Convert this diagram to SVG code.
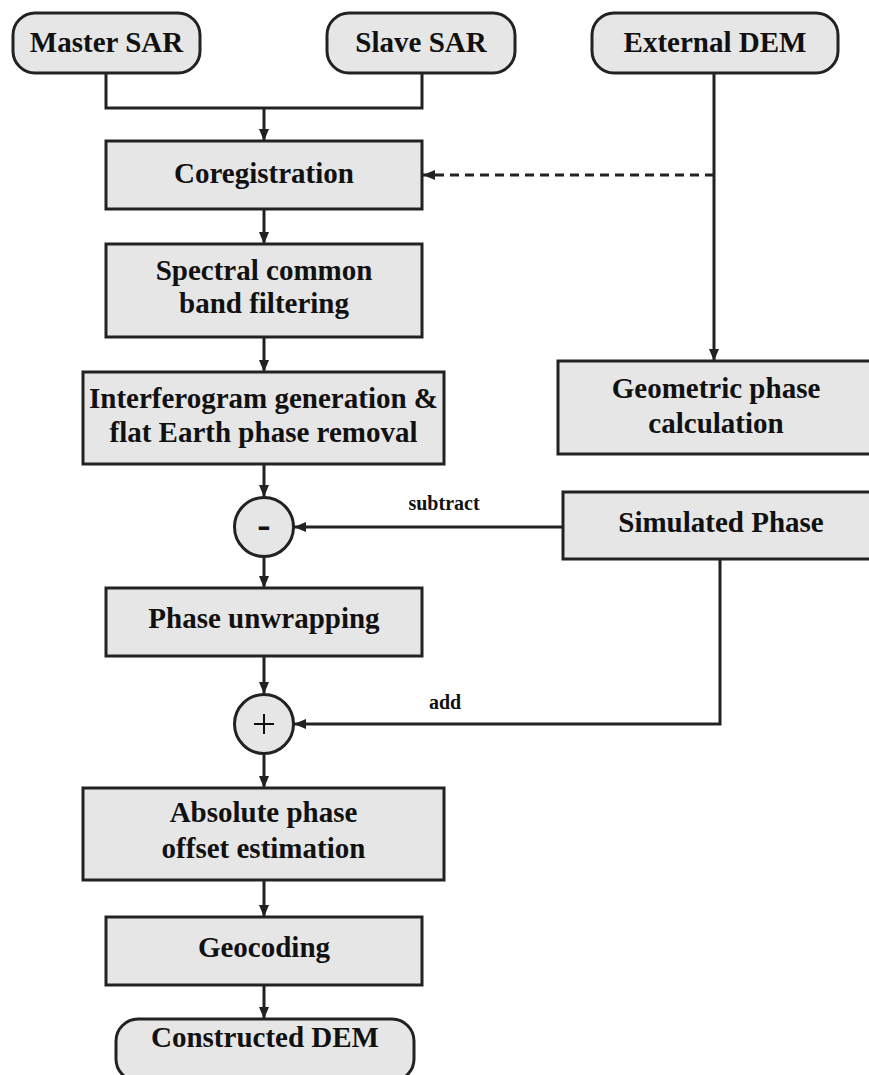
<svg xmlns="http://www.w3.org/2000/svg" width="869" height="1075" viewBox="0 0 869 1075">
<style>
.box{fill:#e6e6e6;stroke:#222;stroke-width:3}
.t{font-family:"Liberation Serif","Times New Roman",serif;font-weight:bold;font-size:29px;fill:#111;text-anchor:middle}
.s{font-family:"Liberation Serif","Times New Roman",serif;font-weight:bold;font-size:20px;fill:#111;text-anchor:middle}
.c{fill:none;stroke:#222;stroke-width:3}
</style>
<defs>
<marker id="ah" viewBox="0 0 12 10" refX="12" refY="5" markerWidth="12" markerHeight="10" markerUnits="userSpaceOnUse" orient="auto">
<path d="M0,0 L12,5 L0,10 z" fill="#222"/>
</marker>
</defs>
<rect width="869" height="1075" fill="#fff"/>
<g id="connectors">
<polyline class="c" points="106,73 106,108 422,108 422,73"/>
<line class="c" x1="264" y1="108" x2="264" y2="141" marker-end="url(#ah)"/>
<line class="c" x1="714" y1="73" x2="714" y2="361" marker-end="url(#ah)"/>
<line class="c" x1="714" y1="175" x2="423" y2="175" stroke-dasharray="9,6" marker-end="url(#ah)"/>
<line class="c" x1="264" y1="209" x2="264" y2="244" marker-end="url(#ah)"/>
<line class="c" x1="264" y1="337" x2="264" y2="372" marker-end="url(#ah)"/>
<line class="c" x1="264" y1="464" x2="264" y2="497" marker-end="url(#ah)"/>
<line class="c" x1="563" y1="527" x2="294" y2="527" marker-end="url(#ah)"/>
<line class="c" x1="264" y1="557" x2="264" y2="588" marker-end="url(#ah)"/>
<line class="c" x1="264" y1="656" x2="264" y2="694" marker-end="url(#ah)"/>
<polyline class="c" points="720,559 720,724 294,724" marker-end="url(#ah)"/>
<line class="c" x1="264" y1="754" x2="264" y2="788" marker-end="url(#ah)"/>
<line class="c" x1="264" y1="880" x2="264" y2="917" marker-end="url(#ah)"/>
<line class="c" x1="264" y1="985" x2="264" y2="1019" marker-end="url(#ah)"/>
<text class="s" x="444" y="510">subtract</text>
<text class="s" x="445" y="709">add</text>
</g>
<g id="master-sar"><rect class="box" x="13" y="13" width="187" height="60" rx="22" ry="22"/><text class="t" x="106.5" y="52">Master SAR</text></g>
<g id="slave-sar"><rect class="box" x="327" y="13" width="188" height="60" rx="22" ry="22"/><text class="t" x="421" y="52">Slave SAR</text></g>
<g id="external-dem"><rect class="box" x="592" y="13" width="246" height="60" rx="22" ry="22"/><text class="t" x="715" y="52">External DEM</text></g>
<g id="coregistration"><rect class="box" x="106" y="141" width="316" height="68"/><text class="t" x="264" y="183">Coregistration</text></g>
<g id="spectral"><rect class="box" x="106" y="244" width="316" height="93"/><text class="t" x="264" y="280">Spectral common</text><text class="t" x="264" y="313">band filtering</text></g>
<g id="interferogram"><rect class="box" x="83" y="372" width="361" height="92"/><text class="t" x="263.5" y="408">Interferogram generation &amp;</text><text class="t" x="263.5" y="442">flat Earth phase removal</text></g>
<g id="geometric"><rect class="box" x="558" y="361" width="330" height="93"/><text class="t" x="716" y="398">Geometric phase</text><text class="t" x="716" y="433">calculation</text></g>
<g id="simulated"><rect class="box" x="563" y="492" width="330" height="67"/><text class="t" x="721" y="532">Simulated Phase</text></g>
<g id="minus"><circle class="box" cx="264" cy="527" r="29.5"/><text x="264" y="538" font-family="Liberation Serif, serif" font-weight="bold" font-size="40" text-anchor="middle" fill="#111">-</text></g>
<g id="unwrapping"><rect class="box" x="106" y="588" width="316" height="68"/><text class="t" x="264" y="628">Phase unwrapping</text></g>
<g id="plus"><circle class="box" cx="264" cy="724" r="29.5"/><path d="M264,714 V734 M254,724 H274" stroke="#111" stroke-width="2" fill="none"/></g>
<g id="absolute"><rect class="box" x="83" y="788" width="361" height="92"/><text class="t" x="263.5" y="822">Absolute phase</text><text class="t" x="263.5" y="858">offset estimation</text></g>
<g id="geocoding"><rect class="box" x="106" y="917" width="316" height="68"/><text class="t" x="264" y="957">Geocoding</text></g>
<g id="constructed"><rect class="box" x="116" y="1019" width="298" height="62" rx="22" ry="22"/><text class="t" x="265" y="1047">Constructed DEM</text></g>
</svg>
